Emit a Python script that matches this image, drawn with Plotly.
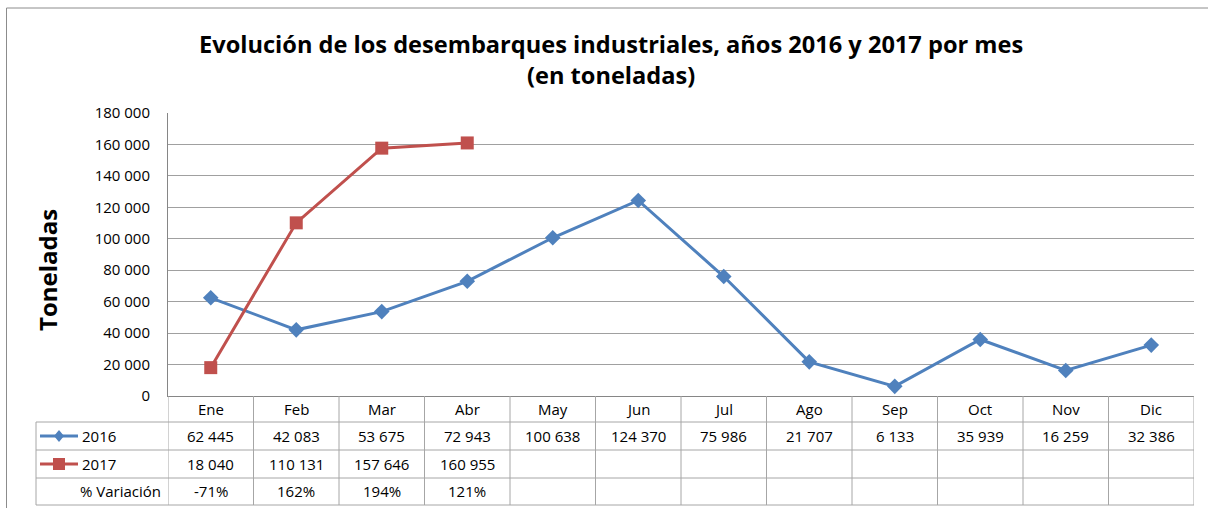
import plotly.graph_objects as go

W, H = 1208, 508

meses = ['Ene', 'Feb', 'Mar', 'Abr', 'May', 'Jun', 'Jul', 'Ago', 'Sep', 'Oct', 'Nov', 'Dic']
t2016 = [62445, 42083, 53675, 72943, 100638, 124370, 75986, 21707, 6133, 35939, 16259, 32386]
t2017 = [18040, 110131, 157646, 160955]
variacion = ['-71%', '162%', '194%', '121%']

azul = '#4F81BD'
rojo = '#C0504D'
gris = '#A6A6A6'
fuente = 'Open Sans'


def px_x(p):
    return p / W


def px_y(p):
    return 1 - p / H


def miles(v):
    return f'{v:,}'.replace(',', ' ')


fig = go.Figure()
fig.add_trace(go.Scatter(x=meses, y=t2016, name='2016', mode='lines+markers',
                         line=dict(color=azul, width=3),
                         marker=dict(symbol='diamond', size=12, color=azul)))
fig.add_trace(go.Scatter(x=meses[:len(t2017)], y=t2017, name='2017', mode='lines+markers',
                         line=dict(color=rojo, width=3),
                         marker=dict(symbol='square', size=13, color=rojo)))

# filas de la tabla de datos (px)
top_tabla = 396
filas = [422, 450, 478, 505]
centros = [409, 436, 464, 491]

shapes = []
anns = []

# borde exterior del gráfico
shapes.append(dict(type='rect', xref='paper', yref='paper', x0=px_x(6.5), x1=1.02,
                   y0=-0.02, y1=px_y(8), line=dict(color='#8C8C8C', width=1)))

# líneas horizontales de la tabla
for f in filas:
    shapes.append(dict(type='line', xref='paper', yref='paper', x0=px_x(36), x1=px_x(1194),
                       y0=px_y(f), y1=px_y(f), line=dict(color=gris, width=1)))
shapes.append(dict(type='line', xref='paper', yref='paper', x0=px_x(36), x1=px_x(36),
                   y0=px_y(filas[0]), y1=px_y(filas[-1]), line=dict(color=gris, width=1)))
# líneas verticales entre meses
for i in range(len(meses) + 1):
    shapes.append(dict(type='line', xref='x', yref='paper', x0=i - 0.5, x1=i - 0.5,
                       y0=px_y(top_tabla), y1=px_y(filas[-1]), line=dict(color=gris, width=1)))

celda = dict(size=15, color='#000000', family=fuente)
base = dict(showarrow=False, font=celda, yanchor='middle')
for i, m in enumerate(meses):
    anns.append(dict(x=m, y=px_y(centros[0]), xref='x', yref='paper', text=m, **base))
    anns.append(dict(x=m, y=px_y(centros[1]), xref='x', yref='paper', text=miles(t2016[i]), **base))
for i, v in enumerate(t2017):
    anns.append(dict(x=meses[i], y=px_y(centros[2]), xref='x', yref='paper', text=miles(v), **base))
    anns.append(dict(x=meses[i], y=px_y(centros[3]), xref='x', yref='paper', text=variacion[i], **base))

# claves de leyenda dentro de la tabla
for fila, color, simbolo, nombre in [(centros[1], azul, 'diamond', '2016'),
                                     (centros[2], rojo, 'square', '2017')]:
    shapes.append(dict(type='line', xref='paper', yref='paper', x0=px_x(40), x1=px_x(78),
                       y0=px_y(fila), y1=px_y(fila), line=dict(color=color, width=3)))
    cx, cy = 59, fila
    if simbolo == 'diamond':
        path = (f'M {px_x(cx - 5)} {px_y(cy)} L {px_x(cx)} {px_y(cy - 6)} '
                f'L {px_x(cx + 5)} {px_y(cy)} L {px_x(cx)} {px_y(cy + 6)} Z')
    else:
        path = (f'M {px_x(cx - 6)} {px_y(cy - 6)} L {px_x(cx + 6)} {px_y(cy - 6)} '
                f'L {px_x(cx + 6)} {px_y(cy + 6)} L {px_x(cx - 6)} {px_y(cy + 6)} Z')
    shapes.append(dict(type='path', xref='paper', yref='paper', path=path,
                       fillcolor=color, line=dict(color=color, width=0)))
    anns.append(dict(x=px_x(80), y=px_y(fila), xref='paper', yref='paper', text=nombre,
                     xanchor='left', **base))
anns.append(dict(x=px_x(163), y=px_y(centros[3]), xref='paper', yref='paper',
                 text='% Variación', xanchor='right', **base))

# título y título del eje
anns.append(dict(x=px_x(611), y=px_y(59), xref='paper', yref='paper',
                 xanchor='center', yanchor='middle',
                 text='<b>Evolución de los desembarques industriales, años 2016 y 2017 por mes<br>(en toneladas)</b>',
                 showarrow=False, font=dict(size=23.6, color='#000000', family=fuente)))
anns.append(dict(x=px_x(47), y=px_y(270), xref='paper', yref='paper',
                 xanchor='center', yanchor='middle',
                 text='<b>Toneladas</b>', textangle=-90, showarrow=False,
                 font=dict(size=24, color='#000000', family=fuente)))

fig.update_layout(
    width=W, height=H,
    margin=dict(l=0, r=0, t=0, b=0, autoexpand=False),
    paper_bgcolor='white', plot_bgcolor='white',
    showlegend=False,
    font=dict(family=fuente, size=15, color='#000000'),
    separators=', ',
    shapes=shapes,
    annotations=anns,
    xaxis=dict(domain=[px_x(168), px_x(1194)], type='category', categoryarray=meses,
               range=[-0.5, 11.5], showticklabels=False, showgrid=False, zeroline=False,
               showline=True, linecolor='#868686', linewidth=1, ticks='', automargin=False),
    yaxis=dict(domain=[px_y(396), px_y(113)], range=[0, 180000], dtick=20000,
               tickformat=',d', showgrid=True, gridcolor='#A0A0A0', gridwidth=1,
               zeroline=False, showline=True, linecolor='#868686', linewidth=1,
               ticks='', ticklabelstandoff=14, automargin=False,
               tickfont=dict(size=15, family=fuente)),
)

fig.write_html('out.html', config={'displayModeBar': False},
               post_script="document.body.style.margin='0';")
